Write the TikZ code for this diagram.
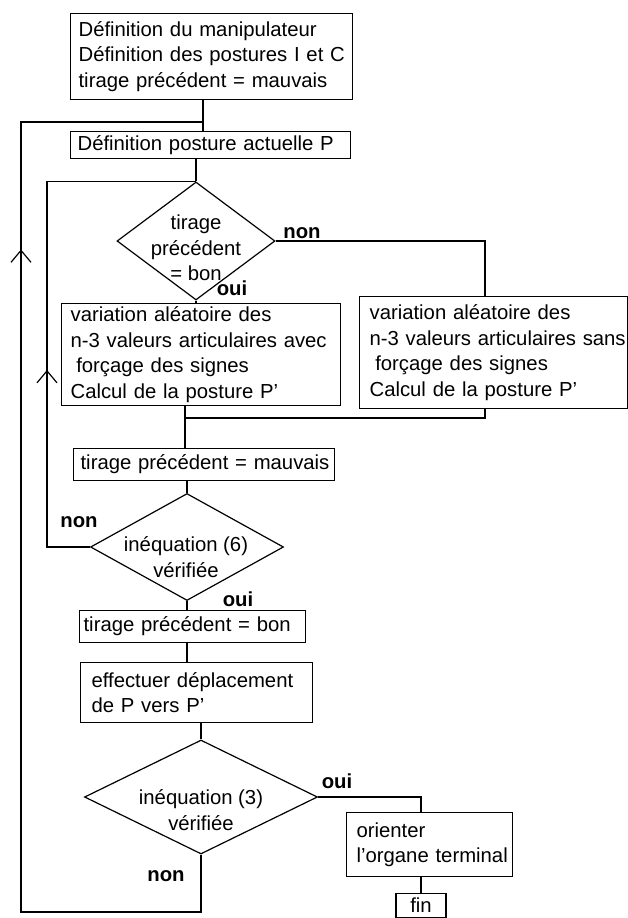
\documentclass[tikz,border=0pt]{standalone}
\usepackage{fontspec}
\setmainfont{Liberation Sans}
\usetikzlibrary{shapes.geometric,arrows.meta,decorations.markings,calc}
\begin{document}
\begin{tikzpicture}[x=1pt,y=-1pt,
  font=\fontsize{20.3}{25.5}\selectfont,
  line width=1.2pt,
  box/.style={draw, anchor=north west, align=left, inner ysep=0pt},
  dia/.style={draw, diamond, inner sep=0pt},
  txt/.style={align=center, inner sep=0pt},
  lab/.style={inner sep=0pt, font=\fontsize{20.3}{25.5}\selectfont\bfseries},
  chev/.style={postaction={decorate}, decoration={markings,
     mark=at position #1 with {\arrow{Straight Barb[length=12pt,width=20pt,line width=1.2pt]}}}}
]
\fill[white] (0,0) rectangle (628,918);
\useasboundingbox (0,0) rectangle (628,918);

% boxes
\node[box, minimum width=282pt, minimum height=86pt, inner xsep=8pt, text width=266pt] (b1) at (70,13)
  {\mbox{Définition du manipulateur}\\\mbox{Définition des postures I et C}\\\mbox{tirage précédent = mauvais}};
\node[box, minimum width=280pt, minimum height=27pt, inner xsep=7pt, text width=266pt] (b2) at (70,131)
  {\mbox{Définition posture actuelle P}};
\node[box, minimum width=279pt, minimum height=102pt, inner xsep=9pt, text width=261pt] (lbox) at (61,303)
  {\mbox{variation aléatoire des}\\\mbox{n-3 valeurs articulaires avec}\\\mbox{\hspace*{0.28em}forçage des signes}\\\mbox{Calcul de la posture P'}};
\node[box, minimum width=268pt, minimum height=112pt, inner xsep=10pt, text width=248pt] (rbox) at (359,296)
  {\mbox{variation aléatoire des}\\\mbox{n-3 valeurs articulaires sans}\\\mbox{\hspace*{0.28em}forçage des signes}\\\mbox{Calcul de la posture P'}};
\node[box, minimum width=261pt, minimum height=32pt, inner xsep=7pt, text width=247pt] (mauv) at (73,448)
  {\mbox{tirage précédent = mauvais}};
\node[box, minimum width=226pt, minimum height=32pt, inner xsep=4pt, text width=218pt] (bon) at (79,610)
  {\mbox{tirage précédent = bon}};
\node[box, minimum width=232pt, minimum height=60pt, inner xsep=11pt, text width=210pt] (eff) at (80,662)
  {\mbox{effectuer déplacement}\\\mbox{de P vers P'}};
\node[box, minimum width=166pt, minimum height=64pt, inner xsep=10pt, text width=146pt] (ori) at (346,812)
  {\mbox{orienter}\\\mbox{l'organe terminal}};
\node[draw, anchor=north, minimum width=50pt, minimum height=24pt, inner sep=0pt] (fin) at (421,893) {fin};

% decisions
\node[dia, minimum width=158pt, minimum height=118pt] (d1) at (196,241) {};
\node[txt] (d1t) at (196,248) {tirage\\précédent\\= bon};
\node[dia, minimum width=193pt, minimum height=107pt] (d2) at (187,547) {};
\node[txt] (d2t) at (186,557) {inéquation (6)\\vérifiée};
\node[dia, minimum width=233pt, minimum height=114pt] (d3) at (201,797) {};
\node[txt] (d3t) at (201,810) {inéquation (3)\\vérifiée};

% labels
\node[lab] (l1) at (302,233) {non};
\node[lab] (l2) at (232,288) {oui};
\node[lab] (l3) at (79,522) {non};
\node[lab] (l4) at (238,599) {oui};
\node[lab] (l5) at (337,781) {oui};
\node[lab] (l6) at (166,876) {non};

% helper coordinates
\coordinate (j1) at (203,122);
\coordinate (il) at (47,0);
\coordinate (rb) at (485,0);
\coordinate (m) at (185,418);
\coordinate (ol) at (21,912);

% connectors
\draw (b1.south -| j1) -- (b2.north -| j1);
\draw (b2.south -| d1.north) -- (d1.north);
\draw (d1.south) -- (lbox.north -| d1.south);
\draw (d1.east) -| (rbox.north -| rb);
\draw (lbox.south -| m) -- (mauv.north -| m);
\draw (rbox.south -| rb) |- (m);
\draw (mauv.south -| d2.north) -- (d2.north);
\draw[chev=220pt] (d2.west) -| (il |- d1.north) -- (d1.north);
\draw (d2.south) -- (bon.north -| d2.south);
\draw (bon.south -| d2.south) -- (eff.north -| d2.south);
\draw (eff.south -| d3.north) -- (d3.north);
\draw (d3.east) -| (ori.north -| fin.north);
\draw (ori.south -| fin.north) -- (fin.north);
\draw[chev=900pt] (d3.south) |- (ol) |- (j1);
\end{tikzpicture}
\end{document}
